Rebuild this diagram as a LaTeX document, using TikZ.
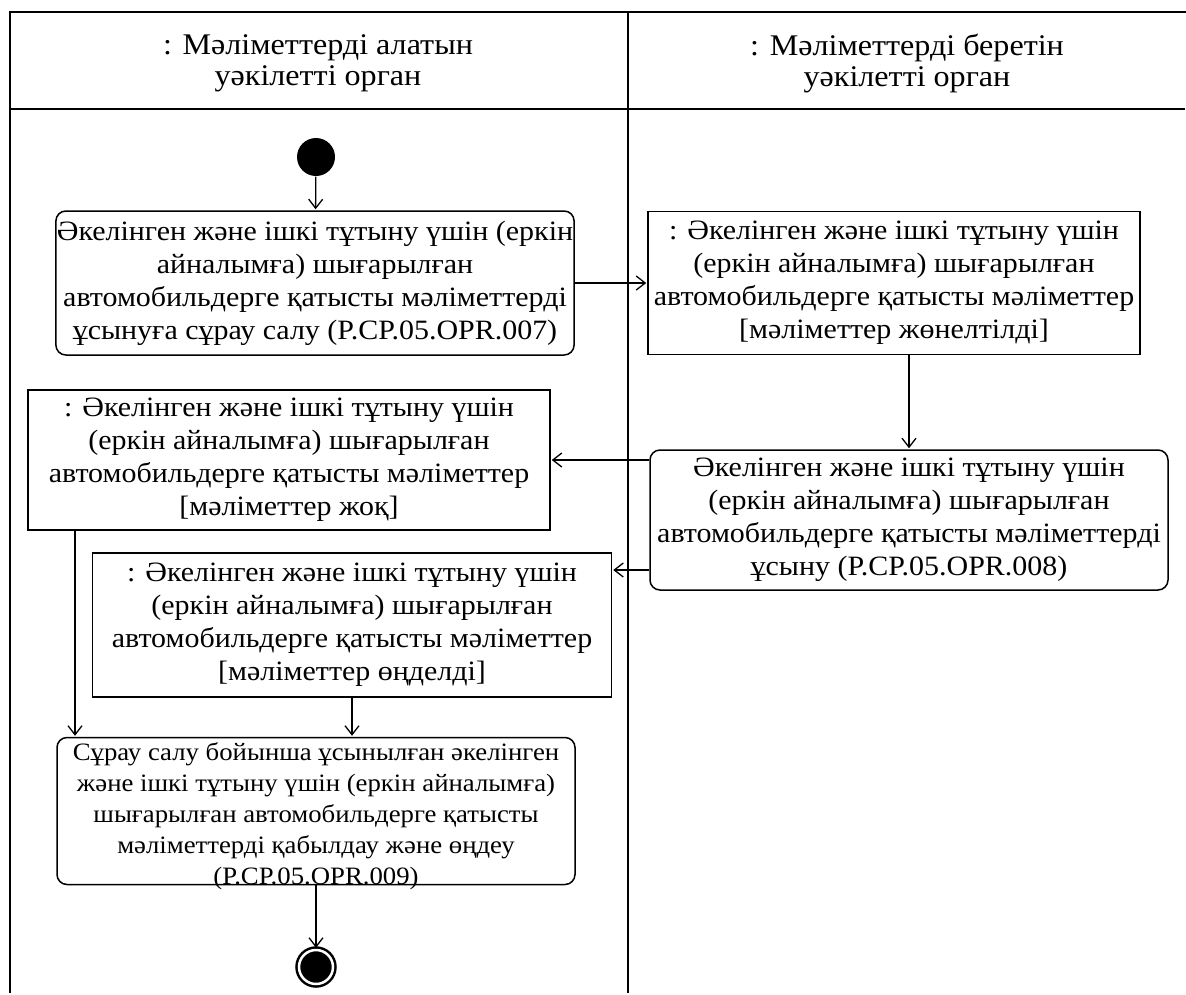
\documentclass[tikz,border=0pt]{standalone}
\usepackage{fontspec}
\setmainfont{Liberation Serif}[FakeStretch=1.07]
\usetikzlibrary{arrows.meta}
\usetikzlibrary{positioning}

\begin{document}
\begin{tikzpicture}[
            x = 1pt, y = -1pt, % one unit per pixel, y downwards
            > = {Straight Barb[length=9pt,width=14pt]}, % open arrow head
            shorten > = 1pt, % don't push arrow head into node
            line width = 1.3pt, % line style
            font = \fontsize{28}{33}\selectfont
        ]

        \tikzstyle{action}=[
            draw,
            rounded corners = 10pt,
            line width = 1.5pt,
            align = center,
            inner sep = 1pt
        ]
        \tikzstyle{object}=[action, rounded corners = 0pt]
        \tikzstyle{lane}=[line width = 2pt]

        \useasboundingbox (0,0) rectangle (1186,994);

        % swimlanes
        \draw[lane] (1186,12) -- (10,12) -- (10,994);
        \draw[lane] (10,109) -- (1186,109);
        \draw[lane] (628,12) -- (628,994);
        \node[align=center, font=\fontsize{30}{31}\selectfont] (recv) at (318,63) {: Мәліметтерді алатын\\уәкілетті орган};
        \node[align=center, font=\fontsize{30}{31}\selectfont] (send) at (907,63) {: Мәліметтерді беретін\\уәкілетті орган};

        % start and end
        \node[circle, fill=black, minimum size=38pt, inner sep=0pt] (start) at (316,157) {};
        \node[circle, fill=black, draw=black, line width=2.5pt, double=white, double distance=2.5pt,
              minimum size=34pt, inner sep=0pt] (stop) at (316,967) {};

        % actions and objects
        \node[action, minimum width=518pt, minimum height=144pt] (req) at (315,283)
            {Әкелінген және ішкі тұтыну үшін (еркін\\айналымға) шығарылған\\автомобильдерге қатысты мәліметтерді\\ұсынуға сұрау салу (P.CP.05.OPR.007)};
        \node[object, minimum width=492pt, minimum height=143pt] (sent) at (894,283)
            {: Әкелінген және ішкі тұтыну үшін\\(еркін айналымға) шығарылған\\автомобильдерге қатысты мәліметтер\\{[мәліметтер жөнелтілді]}};
        \node[action, minimum width=518pt, minimum height=140pt] (give) at (909,520)
            {Әкелінген және ішкі тұтыну үшін\\(еркін айналымға) шығарылған\\автомобильдерге қатысты мәліметтерді\\ұсыну (P.CP.05.OPR.008)};
        \node[object, minimum width=522pt, minimum height=140pt] (none) at (289,460)
            {: Әкелінген және ішкі тұтыну үшін\\(еркін айналымға) шығарылған\\автомобильдерге қатысты мәліметтер\\{[мәліметтер жоқ]}};
        \node[object, minimum width=519pt, minimum height=144pt] (done) at (352,625)
            {: Әкелінген және ішкі тұтыну үшін\\(еркін айналымға) шығарылған\\автомобильдерге қатысты мәліметтер\\{[мәліметтер өңделді]}};
        % text of the last action runs over its border
        \node[action, minimum width=518pt, minimum height=147pt] (accept) at (316,811) {};
        \node[align=center, font=\fontsize{25}{31}\selectfont] (acceptText) at (316,816)
            {Сұрау салу бойынша ұсынылған әкелінген\\және ішкі тұтыну үшін (еркін айналымға)\\шығарылған автомобильдерге қатысты\\мәліметтерді қабылдау және өңдеу\\(P.CP.05.OPR.009)};

        % flows
        \draw[->] (start) -- (req);
        \draw[->] (req) -- (sent);
        \draw[->] (give.north |- sent.south) -- (give.north);
        \draw[->] (give.west |- none) -- (none.east);
        \draw[->] ([yshift=-50pt]give.west) -- ([yshift=-50pt]give.west -| done.east);
        \draw[->] ([xshift=-214pt]none.south) -- ([xshift=-214pt]none.south |- accept.north);
        \draw[->] (done.south) -- (done.south |- accept.north);
        \draw[->] (accept) -- (stop);

\end{tikzpicture}
\end{document}
